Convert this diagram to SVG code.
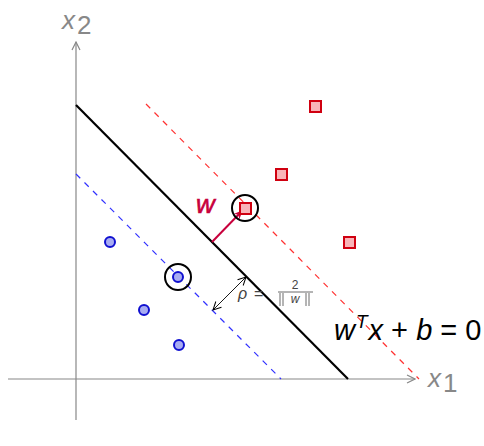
<svg xmlns="http://www.w3.org/2000/svg" width="484" height="446" viewBox="0 0 484 446">
<style>
.axis{stroke:#888;stroke-width:1.2;fill:none}
.ax-label{font-family:"Liberation Sans",Arial,sans-serif;fill:#888;font-size:26px}
.neg{fill:#a8acf2;stroke:#1010d0;stroke-width:2}
.pos{fill:#f9b4b8;stroke:#d00010;stroke-width:2}
.hl{fill:none;stroke:#000;stroke-width:2}
.math{font-family:"Liberation Sans",Arial,sans-serif}
</style>
<defs>
<marker id="ga" viewBox="0 0 10 10" refX="9" refY="5" markerWidth="10" markerHeight="10" markerUnits="userSpaceOnUse" orient="auto-start-reverse">
<path d="M1,1 L9,5 L1,9" fill="none" stroke="#888" stroke-width="1.2"/>
</marker>
<marker id="ka" viewBox="0 0 10 10" refX="9" refY="5" markerWidth="10" markerHeight="10" markerUnits="userSpaceOnUse" orient="auto-start-reverse">
<path d="M1,1 L9,5 L1,9" fill="none" stroke="#000" stroke-width="1"/>
</marker>
<marker id="wa" viewBox="0 0 10 10" refX="8" refY="5" markerWidth="10" markerHeight="10" markerUnits="userSpaceOnUse" orient="auto">
<path d="M0,1 L9,5 L0,9 L3,5 Z" fill="#c8003c"/>
</marker>
</defs>
<g id="axes">
<line class="axis" x1="8" y1="379" x2="415" y2="379" marker-end="url(#ga)"/>
<line class="axis" x1="76" y1="420" x2="76" y2="42" marker-end="url(#ga)"/>
<text class="ax-label" x="62" y="29" font-style="italic">x</text><text class="ax-label" x="77" y="34" font-size="18">2</text>
<text class="ax-label" x="428" y="387" font-style="italic">x</text><text class="ax-label" x="443" y="392" font-size="18">1</text>
</g>
<g id="connectors">
<line x1="76" y1="105" x2="348" y2="379" stroke="#000" stroke-width="2.2"/>
<line x1="146" y1="104" x2="419" y2="379" stroke="#ff3030" stroke-width="1.2" stroke-dasharray="6,6"/>
<line x1="76" y1="174" x2="281" y2="379" stroke="#3030ff" stroke-width="1.2" stroke-dasharray="6,6"/>
<line x1="212" y1="242" x2="242" y2="211" stroke="#c8003c" stroke-width="2" marker-end="url(#wa)"/>
<line x1="246" y1="277" x2="213" y2="310" stroke="#000" stroke-width="0.9" marker-start="url(#ka)" marker-end="url(#ka)"/>
</g>
<g id="neg-points">
<circle class="neg" cx="110" cy="242" r="5"/>
<circle class="neg" cx="178" cy="277" r="5"/>
<circle class="neg" cx="144" cy="310" r="5"/>
<circle class="neg" cx="179" cy="345" r="5"/>
</g>
<g id="pos-points">
<rect class="pos" x="310" y="101" width="11" height="11"/>
<rect class="pos" x="276" y="169" width="11" height="11"/>
<rect class="pos" x="240" y="203" width="11" height="11"/>
<rect class="pos" x="344" y="237" width="11" height="11"/>
</g>
<g id="support">
<circle class="hl" cx="178" cy="277" r="13"/>
<circle class="hl" cx="245" cy="208" r="13"/>
</g>
<g id="labels">
<text class="math" x="196" y="213" font-size="26" font-style="italic" fill="#c8003c" stroke="#c8003c" stroke-width="0.6">w</text>
<text class="math" x="238" y="299" font-size="16" font-style="italic" fill="#444">ρ</text>
<text class="math" x="254" y="299" font-size="16" fill="#444">=</text>
<text class="math" x="295" y="289" font-size="12" fill="#444" text-anchor="middle">2</text>
<line x1="278" y1="292" x2="313" y2="292" stroke="#444" stroke-width="0.8"/>
<g stroke="#444" stroke-width="0.8">
<line x1="280" y1="293" x2="280" y2="306"/><line x1="283" y1="293" x2="283" y2="306"/>
<line x1="306" y1="293" x2="306" y2="306"/><line x1="309" y1="293" x2="309" y2="306"/>
</g>
<text class="math" x="295" y="303" font-size="12" font-style="italic" fill="#444" text-anchor="middle">w</text>
<text class="math" x="334" y="340" font-size="29" fill="#000"><tspan font-style="italic">w</tspan><tspan font-style="italic" font-size="19" dy="-12" dx="1">T</tspan><tspan font-style="italic" dy="12" dx="1">x</tspan> + <tspan font-style="italic">b</tspan> = 0</text>
</g>
</svg>
